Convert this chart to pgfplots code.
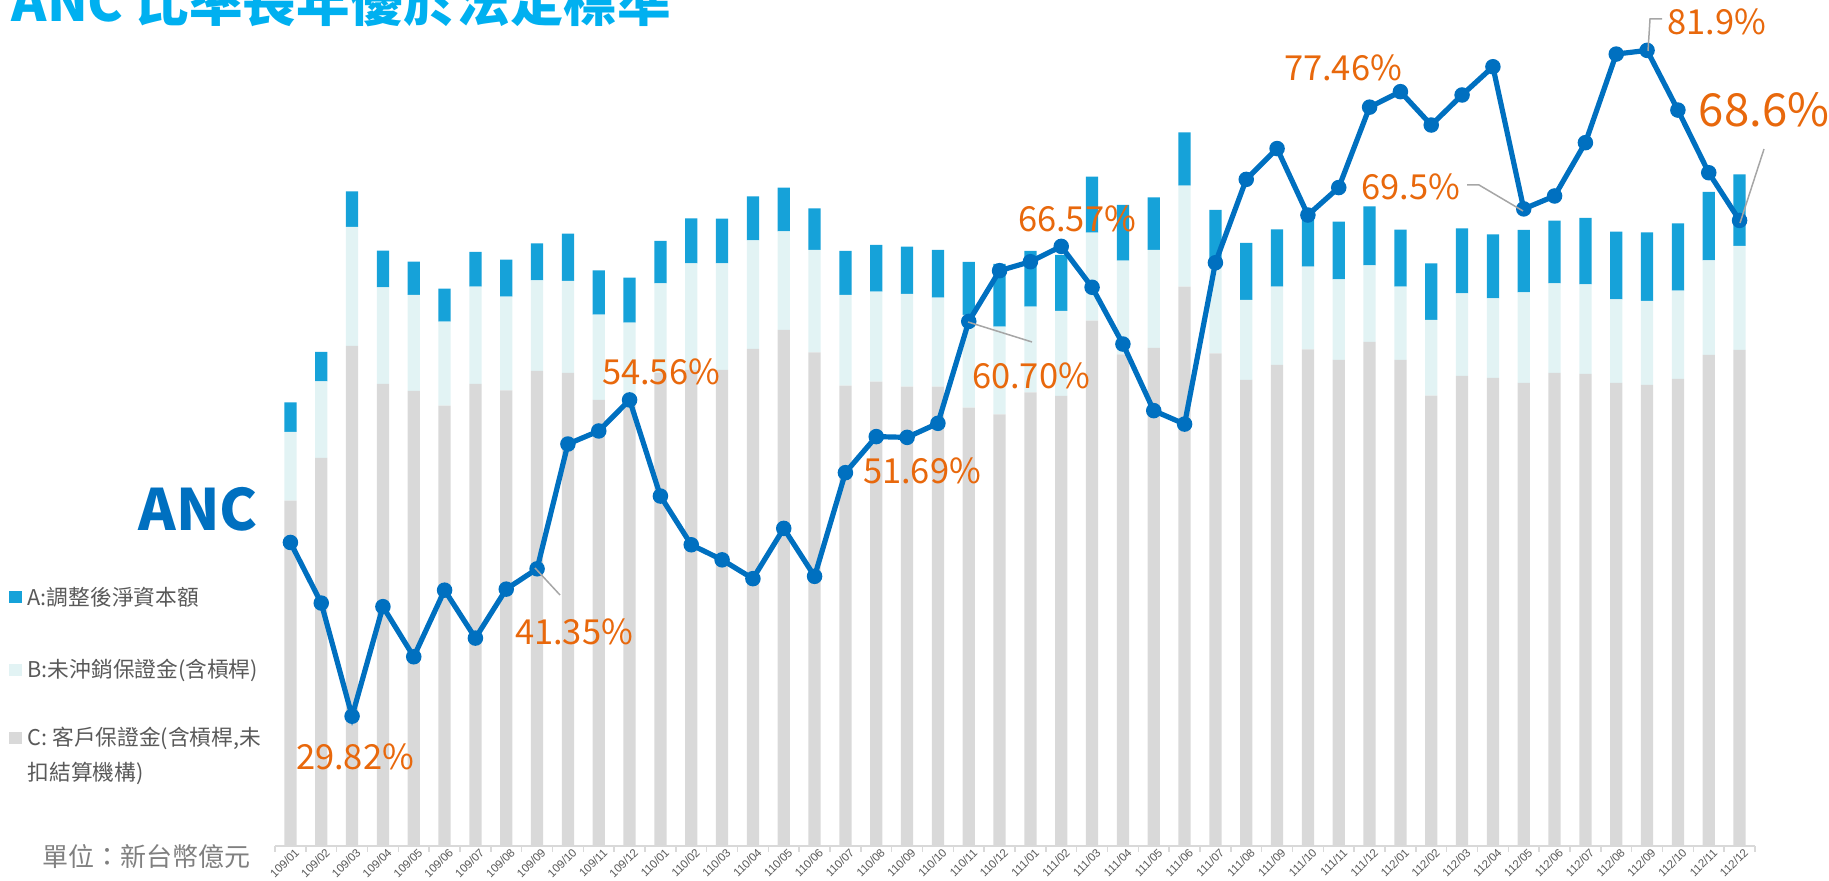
\documentclass[border=0pt]{standalone}
\usepackage{pgfplots}
\pgfplotsset{compat=1.18}
\usepackage{pgfplotstable}
\usepackage{fontspec}
\setmainfont{Noto Sans CJK TC}
\newfontfamily\arialfont{Liberation Sans}
\definecolor{cA}{RGB}{22,162,217}
\definecolor{cB}{RGB}{226,243,244}
\definecolor{cC}{RGB}{217,217,217}
\definecolor{cLine}{RGB}{0,112,192}
\definecolor{cOrange}{RGB}{232,104,12}
\definecolor{cTitle}{RGB}{0,176,240}
\definecolor{cText}{RGB}{89,89,89}
\definecolor{cUnit}{RGB}{128,128,128}
\definecolor{cLeader}{RGB}{166,166,166}

\pgfplotstableread{
x C B A P
0 345.3 68.7 29.7 43.41
1 388.0 76.7 29.3 38.67
2 500.0 119.0 35.7 29.82
3 462.0 96.7 36.6 38.39
4 455.0 96.0 33.3 34.47
5 440.3 84.0 33.0 39.68
6 462.0 97.3 34.7 35.93
7 455.7 93.6 37.0 39.76
8 475.0 90.7 37.0 41.35
9 473.0 92.0 47.3 51.11
10 446.0 85.3 44.4 52.13
11 450.0 73.3 45.0 54.56
12 473.0 89.7 42.3 47.04
13 476.0 106.7 45.0 43.23
14 476.0 106.7 44.6 42.05
15 497.0 108.7 44.0 40.58
16 516.0 98.7 43.6 44.51
17 493.7 102.3 41.7 40.76
18 460.3 90.7 44.0 48.87
19 464.3 90.0 46.7 51.69
20 459.3 92.7 47.3 51.63
21 459.3 89.0 47.7 52.73
22 438.3 92.7 53.0 60.70
23 431.7 87.6 62.7 64.67
24 453.7 85.6 55.7 65.37
25 450.0 85.0 56.0 66.57
26 525.3 88.0 56.0 63.37
27 491.7 93.6 55.7 58.93
28 498.0 98.0 52.7 53.72
29 559.3 101.0 53.4 52.67
30 492.7 93.3 50.0 65.29
31 466.0 80.0 57.0 71.81
32 481.0 78.3 57.4 74.22
33 496.7 82.6 53.7 69.02
34 486.0 80.7 57.6 71.17
35 504.0 76.7 59.0 77.46
36 486.0 73.3 57.0 78.67
37 450.3 75.7 56.7 76.06
38 470.0 82.7 65.0 78.41
39 468.0 79.7 64.0 80.62
40 463.0 90.7 62.3 69.50
41 473.0 89.7 62.6 70.51
42 472.0 89.7 66.3 74.68
43 463.0 83.7 67.6 81.61
44 461.0 84.0 68.7 81.90
45 467.0 88.3 67.4 77.23
46 491.0 94.7 68.3 72.33
47 496.0 104.0 71.7 68.60
}\data

\begin{document}
\begin{tikzpicture}[x=0.1mm,y=-0.1mm]
\begin{axis}[
  at={(27.5mm,-84.6mm)}, anchor=south west,
  scale only axis, width=148mm, height=84.6mm,
  xmin=-0.5, xmax=47.5, ymin=0, ymax=846,
  ybar stacked, bar width=1.23mm,
  axis x line=bottom, axis y line=none,
  x axis line style={-, color=cC, line width=0.15mm},
  every outer x axis line/.append style={-},
  xtick={0,...,47},
  xticklabels={109/01,109/02,109/03,109/04,109/05,109/06,109/07,109/08,109/09,109/10,109/11,109/12,
               110/01,110/02,110/03,110/04,110/05,110/06,110/07,110/08,110/09,110/10,110/11,110/12,
               111/01,111/02,111/03,111/04,111/05,111/06,111/07,111/08,111/09,111/10,111/11,111/12,
               112/01,112/02,112/03,112/04,112/05,112/06,112/07,112/08,112/09,112/10,112/11,112/12},
  major tick length=0pt,
  minor xtick={-0.5,0.5,...,47.5},
  minor tick length=0.6mm,
  tick align=outside,
  minor tick style={color=cC, line width=0.15mm},
  xticklabel style={rotate=45, anchor=north east, inner sep=0pt, yshift=-0.3mm, xshift=0.2mm,
    font=\arialfont\fontsize{1.15mm}{1.3mm}\selectfont, text=cText},
]
\addplot[fill=cC, draw=none] table[x=x,y=C]{\data};
\addplot[fill=cB, draw=none] table[x=x,y=B]{\data};
\addplot[fill=cA, draw=none] table[x=x,y=A]{\data};
\end{axis}
\begin{axis}[
  at={(27.5mm,-84.6mm)}, anchor=south west,
  scale only axis, width=148mm, height=84.6mm,
  xmin=-0.5, xmax=47.5, ymin=19.67, ymax=85.84,
  hide axis, clip=false,
]
\addplot[color=cLine, line width=0.52mm, mark=*, mark size=0.7mm,
  mark options={fill=cLine, draw=cLine, line width=0.15mm}] table[x=x,y=P]{\data};
\end{axis}

% leader lines
\draw[cLeader, line width=0.15mm] (535,568) -- (560,595);
\draw[cLeader, line width=0.15mm] (968,322) -- (1032,342);
\draw[cLeader, line width=0.15mm] (1467,185) -- (1479,185) -- (1523,211);
\draw[cLeader, line width=0.15mm] (1662,19) -- (1650,19) -- (1648,51);
\draw[cLeader, line width=0.15mm] (1764,149) -- (1740,223);

% value labels
\begin{scope}[every node/.style={inner sep=0pt, text=cOrange, font=\fontsize{3.45mm}{4mm}\selectfont}]
\node at (355,757) {29.82\%};
\node at (574,632) {41.35\%};
\node at (661,372) {54.56\%};
\node at (922,471) {51.69\%};
\node at (1031,376) {60.70\%};
\node at (1077,219) {66.57\%};
\node at (1343,68) {77.46\%};
\node at (1411,187) {69.5\%};
\node at (1717,22) {81.9\%};
\node[font=\fontsize{4.55mm}{5mm}\selectfont] at (1764,110) {68.6\%};
\end{scope}

% title and ANC
\node[anchor=base west, inner sep=0pt, text=cTitle, font=\bfseries\fontsize{5.35mm}{6mm}\selectfont] at (11,22) {ANC 比率長年優於法定標準};
\node[anchor=base west, inner sep=0pt, text=cLine, font=\bfseries\fontsize{5.7mm}{7mm}\selectfont] at (138,531) {ANC};

% legend
\begin{scope}[every node/.style={anchor=west, inner sep=0pt, text=cText, font=\fontsize{2.17mm}{2.5mm}\selectfont}]
\fill[cA] (9,591) rectangle (22,603);
\node at (27,597) {A:調整後淨資本額};
\fill[cB] (9,664) rectangle (22,676);
\node at (27,670) {B:未沖銷保證金(含槓桿)};
\fill[cC] (9,732) rectangle (22,744);
\node at (27,738) {C: 客戶保證金(含槓桿,未};
\node at (27,773) {扣結算機構)};
\end{scope}
\node[anchor=west, inner sep=0pt, text=cUnit, font=\fontsize{2.6mm}{3mm}\selectfont] at (42,857) {單位：新台幣億元};

\pgfresetboundingbox
\useasboundingbox (0,0) rectangle (1829,881);
\end{tikzpicture}
\end{document}
